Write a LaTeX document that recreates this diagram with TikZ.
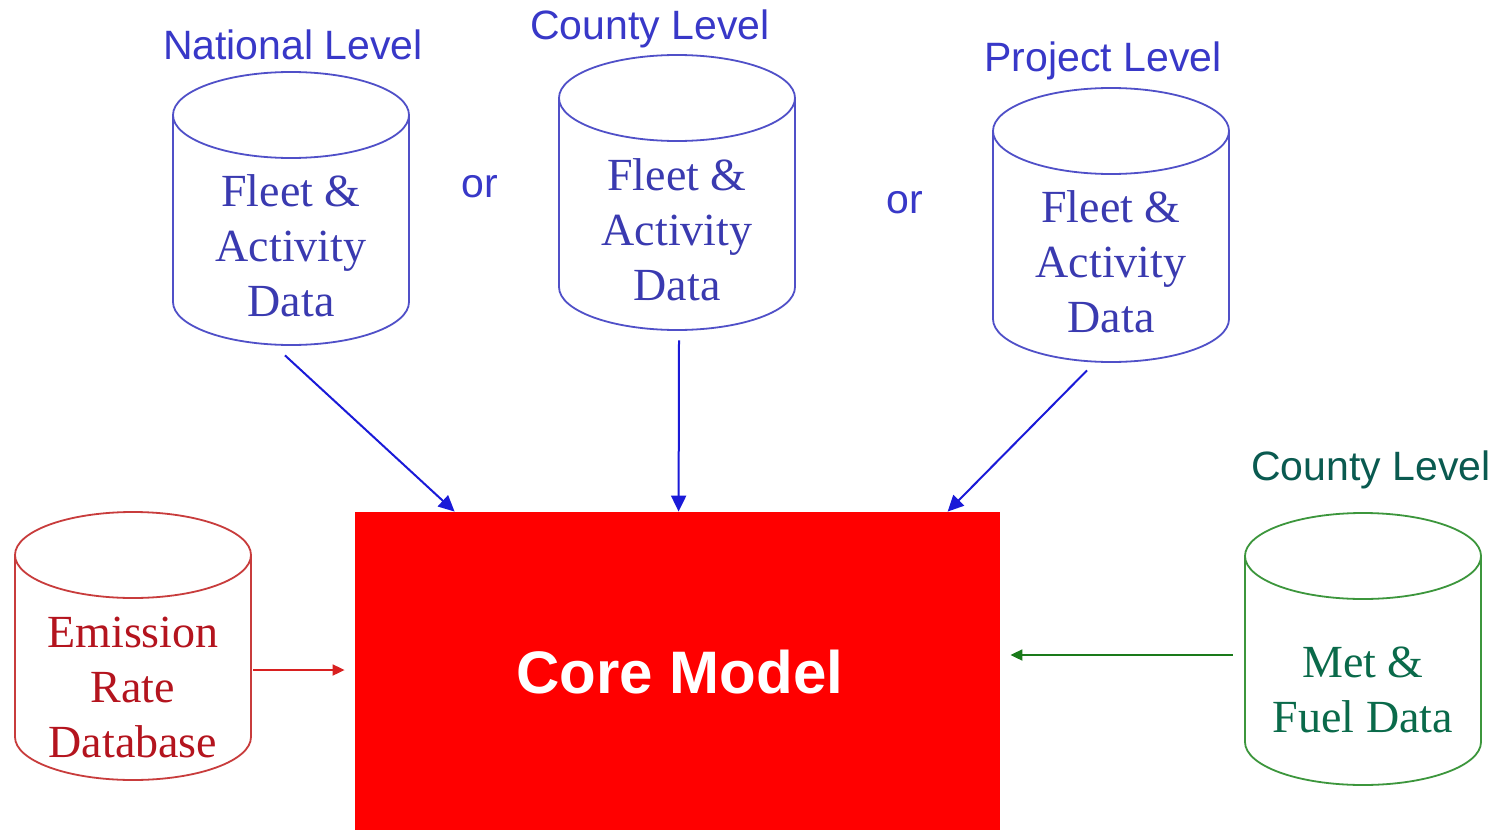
\documentclass[tikz,border=0pt]{standalone}
\usepackage{fontspec}
\setmainfont{Liberation Serif}
\setsansfont{Liberation Sans}
\usetikzlibrary{arrows.meta,calc}
\definecolor{lvlblue}{HTML}{3838C8}
\definecolor{cylblue}{HTML}{5050C8}
\definecolor{txtblue}{HTML}{3A3AB0}
\definecolor{arrblue}{HTML}{1A1AD8}
\definecolor{txtred}{HTML}{B4141E}
\definecolor{cylred}{HTML}{C83C3C}
\definecolor{arrred}{HTML}{D82020}
\definecolor{lvlgreen}{HTML}{0A5A50}
\definecolor{txtgreen}{HTML}{0A6A4A}
\definecolor{cylgreen}{HTML}{3C963C}
\definecolor{arrgreen}{HTML}{1A7A1A}
\definecolor{corered}{HTML}{FF0000}
\newcommand{\dbcyl}[4]{% cx, top, bottom, color
  \draw[#4, line width=0.9pt] (#1,#2+43) ellipse[x radius=118, y radius=43];
  \draw[#4, line width=0.9pt] (#1-118,#2+43) -- (#1-118,#3-43)
     arc[start angle=180, end angle=0, x radius=118, y radius=43] -- (#1+118,#2+43);
}
\begin{document}
\begin{tikzpicture}[x=0.5pt,y=-0.5pt,
  lvl/.style={font=\sffamily\fontsize{20.5}{24}\selectfont, inner sep=0pt},
  cyltext/.style={font=\fontsize{23}{27.5}\selectfont, align=center, inner sep=0pt},
  cylbox/.style={draw=none, minimum width=118pt, inner sep=0pt},
  bluearrow/.style={arrblue, line width=1pt, -{Triangle[length=8pt,width=7.5pt]}},
  redarrow/.style={arrred, line width=0.9pt, -{Triangle[length=6pt,width=5.5pt]}},
  greenarrow/.style={arrgreen, line width=0.9pt, -{Triangle[length=6pt,width=5.5pt]}}]
\useasboundingbox (0,0) rectangle (1504,830);
\fill[white] (0,0) rectangle (1504,830);

% cylinders
\dbcyl{291}{72}{345}{cylblue}
\dbcyl{677}{55}{330}{cylblue}
\dbcyl{1111}{88}{362}{cylblue}
\dbcyl{133}{512}{780}{cylred}
\dbcyl{1363}{513}{785}{cylgreen}

% named boxes for the cylinders
\node[cylbox, minimum height=136.5pt] (natl) at (291,208.5) {};
\node[cylbox, minimum height=137.5pt] (cnty) at (677,192.5) {};
\node[cylbox, minimum height=137pt] (proj) at (1111,225) {};
\node[cylbox, minimum height=134pt] (emis) at (133,646) {};
\node[cylbox, minimum height=136pt] (met) at (1363,649) {};

% cylinder texts
\node[cyltext, text=txtblue] (natltxt) at (291,246) {Fleet \&\\Activity\\Data};
\node[cyltext, text=txtblue] (cntytxt) at (677,230) {Fleet \&\\Activity\\Data};
\node[cyltext, text=txtblue] (projtxt) at (1111,262) {Fleet \&\\Activity\\Data};
\node[cyltext, text=txtred] (emistxt) at (133,687) {Emission\\Rate\\Database};
\node[cyltext, text=txtgreen] (mettxt) at (1363,690) {Met \&\\Fuel Data};

% level labels
\node[lvl, text=lvlblue] (lnatl) at (293,45) {National Level};
\node[lvl, text=lvlblue] (lcnty) at (650,29) {County Level};
\node[lvl, text=lvlblue] (lproj) at (1103,61) {Project Level};
\node[lvl, text=lvlgreen] (lmet) at (1371,470) {County Level};
\node[lvl, text=lvlblue] (or1) at (480,187) {or};
\node[lvl, text=lvlblue] (or2) at (905,203) {or};

% core model
\node[fill=corered, draw=none, minimum width=322.5pt, minimum height=159pt, inner sep=0pt] (core) at (677.5,671) {};
\node[text=white, font=\sffamily\bfseries\fontsize{30}{36}\selectfont, inner sep=0pt] (coretxt) at (680,672) {Core Model};

% connectors
\draw[bluearrow] ($(natl.south)+(-6,10)$) -- ($(core.north west)+(100,0)$);
\draw[bluearrow] ($(cnty.south)+(2,10)$) -- ($(core.north west)+(324,0)$);
\draw[bluearrow] ($(proj.south)+(-24,8)$) -- ($(core.north west)+(593,0)$);
\draw[redarrow] ($(emis.east)+(2,24)$) -- ($(core.west)+(-10,-1)$);
\draw[greenarrow] ($(met.west)+(-12,6)$) -- ($(core.east)+(10,-16)$);
\end{tikzpicture}
\end{document}
